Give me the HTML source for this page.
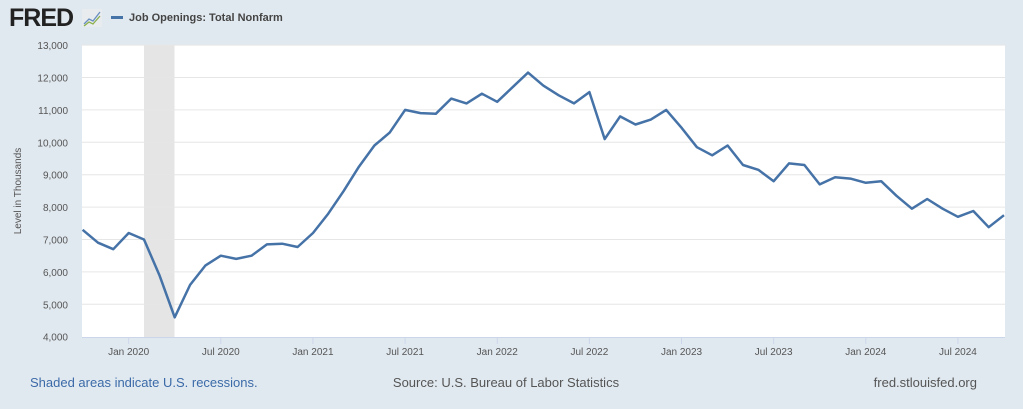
<!DOCTYPE html>
<html><head><meta charset="utf-8"><style>
body{margin:0;background:#e1e9f0;width:1023px;height:404px;overflow:hidden;font-family:"Liberation Sans",Arial,sans-serif}
</style></head><body>
<svg width="1023" height="404" xmlns="http://www.w3.org/2000/svg" font-family="Liberation Sans, Arial, sans-serif">
<rect width="1023" height="404" fill="#e1e9f0"/>
<text x="9" y="26" font-size="25" font-weight="bold" fill="#222" letter-spacing="-1">FRED</text>
<rect x="82" y="9" width="20" height="18" fill="#e8ecef"/>
<polyline points="84,24 89,19 93,21 100,12" fill="none" stroke="#6a8fc0" stroke-width="1.3"/>
<polyline points="84,26 89,22 93,24 100,16" fill="none" stroke="#8ab04a" stroke-width="1.3"/>
<rect x="111" y="16" width="12" height="3" fill="#4572a7"/>
<text x="129" y="21" font-size="11" font-weight="bold" fill="#444">Job Openings: Total Nonfarm</text>
<rect x="82" y="45" width="923" height="292" fill="#fff"/>
<rect x="144" y="45" width="30.5" height="292" fill="#e5e5e5"/>
<g id="grid" stroke="#e6e6e6" stroke-width="1"></g>
<g id="ylab" font-size="10" fill="#555" text-anchor="end"></g>
<line x1="82" y1="337.5" x2="1005" y2="337.5" stroke="#ccd6eb"/>
<g id="xt" stroke="#ccd6eb"></g>
<g id="xlab" font-size="10" fill="#555" text-anchor="middle"></g>
<text transform="translate(21,191) rotate(-90)" font-size="10" fill="#555" text-anchor="middle">Level in Thousands</text>
<polyline id="line" fill="none" stroke="#4572a7" stroke-width="2.5" stroke-linejoin="round"/>
<text x="30" y="387" font-size="13" fill="#3b6aa8">Shaded areas indicate U.S. recessions.</text>
<text x="506" y="387" font-size="13" fill="#555" text-anchor="middle">Source: U.S. Bureau of Labor Statistics</text>
<text x="977" y="387" font-size="13" fill="#555" text-anchor="end">fred.stlouisfed.org</text>
</svg>
<script>
var ns="http://www.w3.org/2000/svg";
function Y(v){return 336.7-(v-4000)*0.0324;}
function X(i){return 82.6+i*15.357;}
var g=document.getElementById("grid"),yl=document.getElementById("ylab");
for(var v=5000;v<=13000;v+=1000){var l=document.createElementNS(ns,"line");l.setAttribute("x1",82);l.setAttribute("x2",1005);l.setAttribute("y1",Y(v));l.setAttribute("y2",Y(v));g.appendChild(l);}
for(var v=4000;v<=13000;v+=1000){var t=document.createElementNS(ns,"text");t.setAttribute("x",68);t.setAttribute("y",Y(v)+4);t.textContent=(v/1000)+",000";yl.appendChild(t);}
var labs=["Jan 2020","Jul 2020","Jan 2021","Jul 2021","Jan 2022","Jul 2022","Jan 2023","Jul 2023","Jan 2024","Jul 2024"];
var xt=document.getElementById("xt"),xl=document.getElementById("xlab");
for(var k=0;k<labs.length;k++){var x=X(3+6*k);var l=document.createElementNS(ns,"line");l.setAttribute("x1",x);l.setAttribute("x2",x);l.setAttribute("y1",337);l.setAttribute("y2",344);xt.appendChild(l);
var t=document.createElementNS(ns,"text");t.setAttribute("x",x);t.setAttribute("y",355);t.textContent=labs[k];xl.appendChild(t);}
var d=[7300,6900,6700,7200,7000,5900,4600,5600,6200,6500,6400,6500,6850,6870,6770,7200,7800,8500,9250,9900,10300,11000,10900,10880,11350,11200,11500,11250,11700,12150,11750,11450,11200,11550,10100,10800,10550,10700,11000,10450,9850,9600,9900,9300,9150,8800,9350,9300,8700,8920,8880,8750,8800,8350,7950,8250,7950,7700,7880,7380,7750];
document.getElementById("line").setAttribute("points",d.map(function(v,i){return X(i).toFixed(1)+","+Y(v).toFixed(1)}).join(" "));
</script>
</body></html>
